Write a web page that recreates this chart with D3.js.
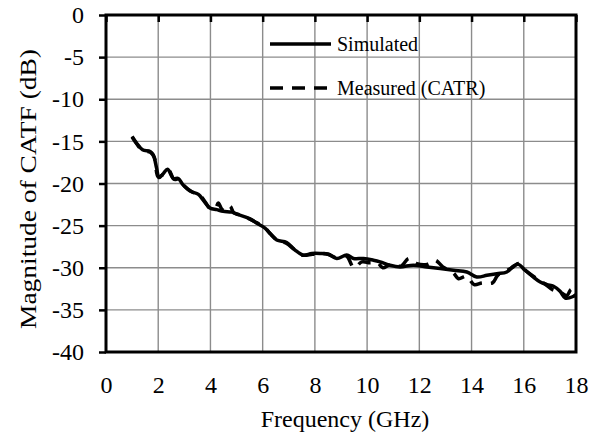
<!DOCTYPE html>
<html>
<head>
<meta charset="utf-8">
<script src="https://cdn.jsdelivr.net/npm/d3@7"></script>
<style>
  body { margin: 0; background: #fff; }
  svg text { font-family: "Liberation Serif", "Times New Roman", "DejaVu Serif", serif !important; fill: #000; }
</style>
</head>
<body>
<div id="chart"></div>
<script>
// simulated CATF (frequency in GHz, magnitude in dB)
var simFreq = [1.0, 1.17, 1.4, 1.69, 1.81, 1.94, 2.03, 2.2, 2.36, 2.58, 2.77, 2.96, 3.22, 3.54, 3.73, 3.98,
  4.24, 4.49, 4.82, 5.07, 5.45, 5.77, 6.09, 6.28, 6.54, 6.92, 7.24, 7.56, 7.88, 8.2, 8.52, 8.84,
  9.22, 9.48, 9.86, 10.24, 10.5, 10.88, 11.26, 11.77, 12.29, 12.8, 13.31, 13.82, 14.2, 14.59,
  14.97, 15.35, 15.61, 15.8, 16.05, 16.37, 16.63, 16.89, 17.14, 17.39, 17.59, 17.9, 18.0];
var simMag = [-14.4, -15.2, -16.0, -16.2, -16.6, -18.2, -19.3, -18.8, -18.3, -19.4, -19.4, -20.2, -20.9, -21.3, -22.0, -22.9,
  -23.1, -23.3, -23.4, -23.7, -24.1, -24.7, -25.3, -25.9, -26.7, -27.0, -27.9, -28.5, -28.3, -28.3, -28.4, -28.9,
  -28.5, -28.9, -28.9, -29.1, -29.3, -29.7, -29.9, -29.7, -29.9, -30.1, -30.3, -30.5, -31.1, -30.9,
  -30.7, -30.5, -29.8, -29.6, -30.3, -31.1, -31.7, -32.0, -32.2, -32.8, -33.6, -33.4, -33.2];

// measured CATF in the CATR
var measFreq = [1.0, 1.2, 1.4, 1.7, 1.85, 2.0, 2.2, 2.4, 2.6, 2.8, 3.0, 3.3, 3.6, 3.8, 4.0, 4.2, 4.3, 4.45,
  4.6, 4.75, 4.9, 5.1, 5.5, 5.8, 6.1, 6.3, 6.6, 6.9, 7.2, 7.5, 7.9, 8.2, 8.5, 8.8, 9.2, 9.5, 9.8,
  10.1, 10.4, 10.6, 10.9, 11.3, 11.6, 11.9, 12.3, 12.6, 12.9, 13.3, 13.5, 13.8, 14.1, 14.4, 14.8,
  15.0, 15.3, 15.6, 15.8, 16.1, 16.5, 16.8, 17.1, 17.4, 17.65, 17.8, 17.9];
var measMag = [-14.5, -15.4, -16.1, -16.3, -16.9, -19.2, -18.9, -18.4, -19.5, -19.5, -20.3, -21.0, -21.4, -22.2, -23.0, -22.9, -22.3, -23.1,
  -23.2, -22.7, -23.5, -23.7, -24.2, -24.7, -25.3, -26.0, -26.8, -27.1, -27.8, -28.5, -28.4, -28.3, -28.4, -28.8, -28.6, -30.0, -29.3,
  -29.4, -29.4, -30.0, -29.6, -29.8, -28.9, -29.5, -29.6, -29.1, -29.9, -30.6, -31.3, -31.0, -32.0, -31.8, -31.8,
  -30.9, -30.4, -29.9, -29.5, -30.4, -31.3, -31.9, -32.6, -32.9, -33.3, -32.6, -32.5];

var xTicks = [0, 2, 4, 6, 8, 10, 12, 14, 16, 18];
var yTicks = [0, -5, -10, -15, -20, -25, -30, -35, -40];
var seriesNames = ["Simulated", "Measured (CATR)"];

var W = 599, H = 440;
var margin = {top: 15, right: 23, bottom: 88, left: 106};
var width = W - margin.left - margin.right;
var height = H - margin.top - margin.bottom;
var serif = "Liberation Serif, Times New Roman, serif";

var svg = d3.select("#chart").append("svg")
  .attr("width", W)
  .attr("height", H)
  .attr("font-family", serif);

var g = svg.append("g")
  .attr("transform", "translate(" + margin.left + "," + margin.top + ")");

var x = d3.scaleLinear().domain([0, 18]).range([0, width]);
var y = d3.scaleLinear().domain([-40, 0]).range([height, 0]);

// grid
g.append("g").selectAll("line.vg")
  .data(xTicks.slice(1, -1))
  .enter().append("line")
  .attr("x1", function(d) { return x(d); })
  .attr("x2", function(d) { return x(d); })
  .attr("y1", 0).attr("y2", height)
  .attr("stroke", "#8c8c8c").attr("stroke-width", 1.4);

g.append("g").selectAll("line.hg")
  .data(yTicks.slice(1, -1))
  .enter().append("line")
  .attr("x1", 0).attr("x2", width)
  .attr("y1", function(d) { return y(d); })
  .attr("y2", function(d) { return y(d); })
  .attr("stroke", "#8c8c8c").attr("stroke-width", 1.4);

// x labels at the bottom, tick marks on the top axis (0 dB)
var xAxis = g.append("g")
  .attr("transform", "translate(0," + height + ")")
  .call(d3.axisBottom(x).tickValues(xTicks).tickSize(0).tickPadding(24).tickFormat(d3.format("d")));
xAxis.attr("font-family", serif).attr("font-size", 24);
xAxis.select(".domain").remove();

var xTop = g.append("g")
  .call(d3.axisTop(x).tickValues(xTicks).tickSize(-7).tickFormat(""));
xTop.select(".domain").remove();
xTop.selectAll("line").attr("stroke", "#000").attr("stroke-width", 2.5);

var yAxis = g.append("g")
  .call(d3.axisLeft(y).tickValues(yTicks).tickSize(7).tickPadding(15).tickFormat(d3.format("d")));
yAxis.attr("font-family", serif).attr("font-size", 24);
yAxis.select(".domain").remove();
yAxis.selectAll("line").attr("stroke", "#000").attr("stroke-width", 2.5);
yAxis.selectAll("text").text(function(d) { return String(d); });

// frame
g.append("rect")
  .attr("x", 0).attr("y", 0)
  .attr("width", width).attr("height", height)
  .attr("fill", "none").attr("stroke", "#000").attr("stroke-width", 3);

// curves
var line = d3.line()
  .x(function(d) { return x(d[0]); })
  .y(function(d) { return y(d[1]); })
  .curve(d3.curveCatmullRom);

var simData = simFreq.map(function(f, i) { return [f, simMag[i]]; });
var measData = measFreq.map(function(f, i) { return [f, measMag[i]]; });

g.append("path")
  .datum(measData)
  .attr("d", line)
  .attr("fill", "none").attr("stroke", "#000").attr("stroke-width", 3.5)
  .attr("stroke-dasharray", "13,9");

g.append("path")
  .datum(simData)
  .attr("d", line)
  .attr("fill", "none").attr("stroke", "#000").attr("stroke-width", 3.5);

// legend
var legend = svg.append("g");
seriesNames.forEach(function(name, i) {
  var ly = 44 + i * 44;
  legend.append("line")
    .attr("x1", 270).attr("x2", 331)
    .attr("y1", ly).attr("y2", ly)
    .attr("stroke", "#000").attr("stroke-width", 3.5)
    .attr("stroke-dasharray", i === 1 ? "13,9" : null);
  legend.append("text")
    .attr("x", 337).attr("y", ly + 7)
    .attr("font-size", 20)
    .text(name);
});

// axis titles
svg.append("text")
  .attr("x", 345).attr("y", 427)
  .attr("text-anchor", "middle")
  .attr("font-size", 24)
  .text("Frequency (GHz)");

svg.append("text")
  .attr("transform", "translate(36," + 189 + ") rotate(-90)")
  .attr("text-anchor", "middle")
  .attr("font-size", 24)
  .attr("textLength", 280)
  .attr("lengthAdjust", "spacingAndGlyphs")
  .text("Magnitude of CATF (dB)");
</script>
</body>
</html>
